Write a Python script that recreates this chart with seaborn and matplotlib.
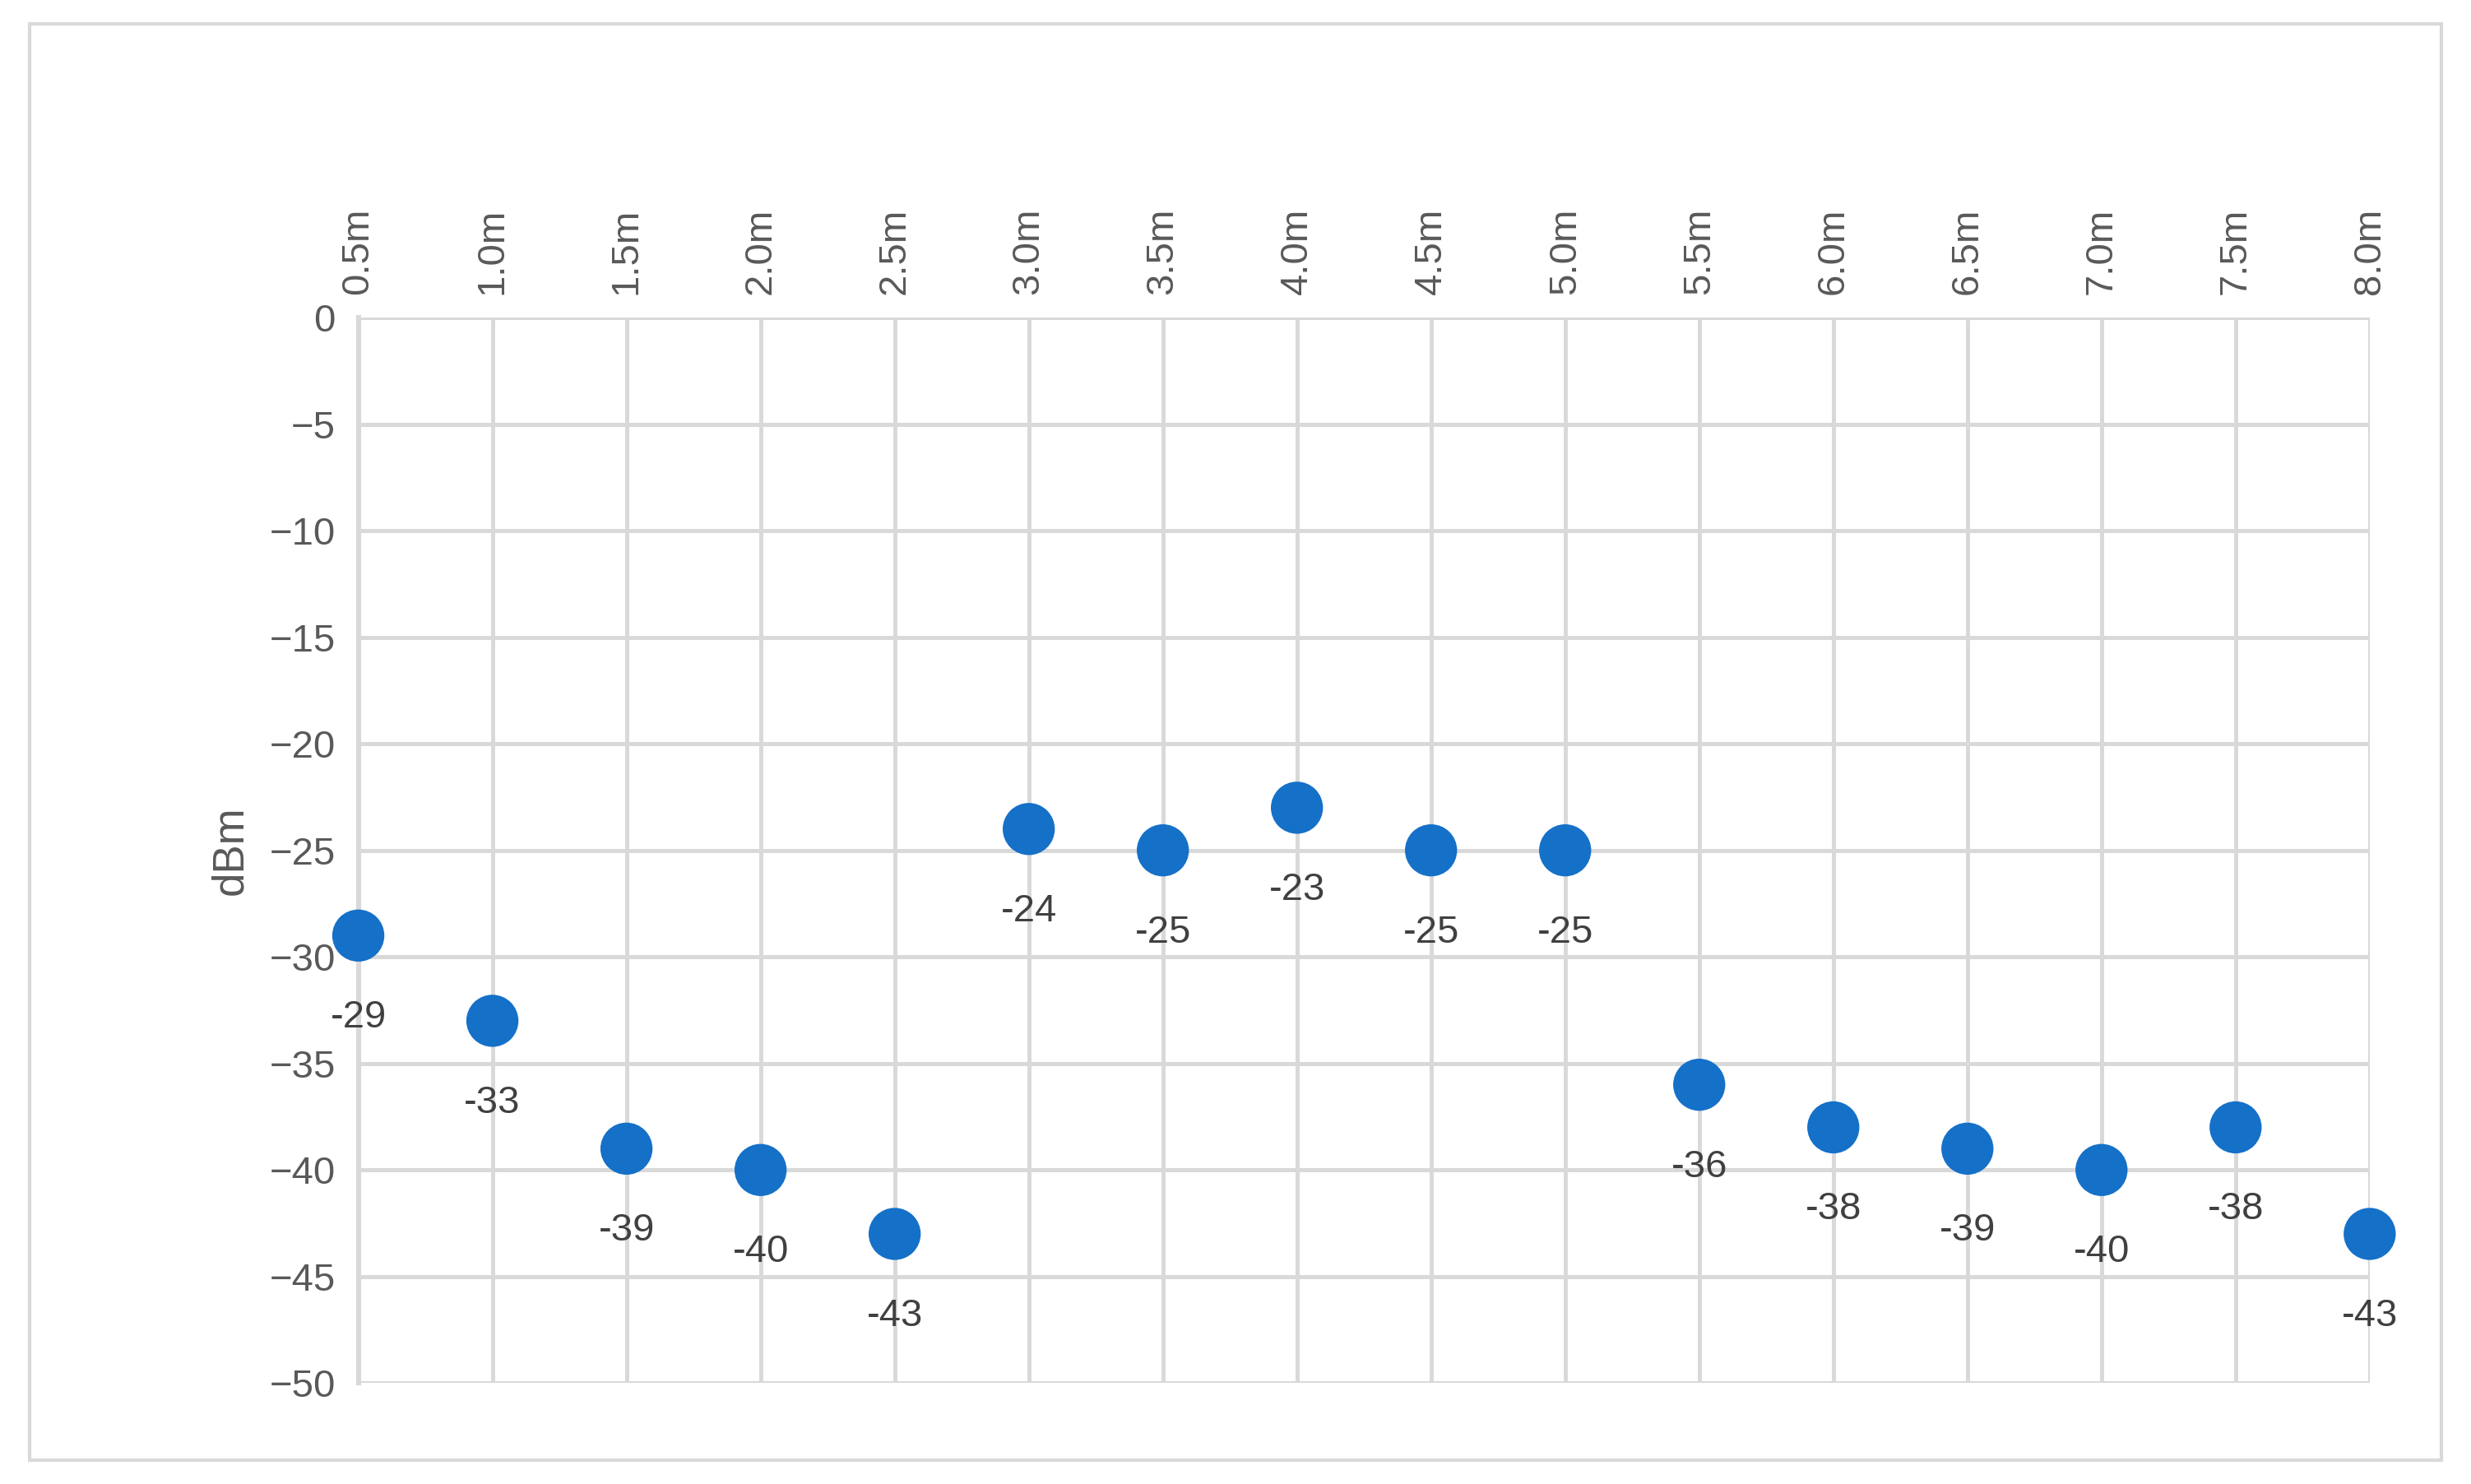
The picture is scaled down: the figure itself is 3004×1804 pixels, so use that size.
import matplotlib
matplotlib.use("Agg")
import matplotlib.pyplot as plt
import matplotlib.patches as mpatches
import pandas as pd
import seaborn as sns

# data
distances = ["0.5m", "1.0m", "1.5m", "2.0m", "2.5m", "3.0m", "3.5m", "4.0m",
             "4.5m", "5.0m", "5.5m", "6.0m", "6.5m", "7.0m", "7.5m", "8.0m"]
dbm = [-29, -33, -39, -40, -43, -24, -25, -23, -25, -25, -36, -38, -39, -40, -38, -43]

df = pd.DataFrame({"distance": distances, "dbm": dbm})

sns.set_theme(style="white")
plt.rcParams["font.family"] = ["Liberation Sans", "DejaVu Sans"]

fig = plt.figure(figsize=(15.02, 9.02), dpi=200)
ax = fig.add_axes([0.145, 0.068, 0.814, 0.718])

# outer chart border
fig.patches.append(mpatches.Rectangle((0.012, 0.016), 0.976, 0.968, transform=fig.transFigure,
                                      fill=False, edgecolor="#d9d9d9", linewidth=1.5))

sns.scatterplot(data=df, x="distance", y="dbm", ax=ax, s=520, color="#1570c8",
                edgecolor="none", zorder=3, clip_on=False)

for i, v in enumerate(dbm):
    ax.annotate(f"{v}", (i, v), xytext=(0, -36), textcoords="offset points",
                ha="center", va="center", fontsize=17, color="#404040")

ax.set_xlim(0, len(distances) - 1)
ax.set_ylim(-50, 0)
ax.set_yticks(range(-50, 1, 5))
ax.xaxis.tick_top()
ax.set_xticks(range(len(distances)))
ax.set_xticklabels(distances, rotation=90)
ax.tick_params(axis="both", labelsize=17, colors="#595959", length=0, pad=10)
ax.set_xlabel("")
ax.set_ylabel("dBm", fontsize=19, color="#595959", labelpad=8)

ax.grid(True, color="#d9d9d9", linewidth=1.8)
ax.set_axisbelow(True)
for side in ["top", "right", "bottom"]:
    ax.spines[side].set_visible(False)
ax.spines["left"].set_color("#d9d9d9")
ax.spines["left"].set_linewidth(2.2)

fig.savefig("out.png", dpi=200)
